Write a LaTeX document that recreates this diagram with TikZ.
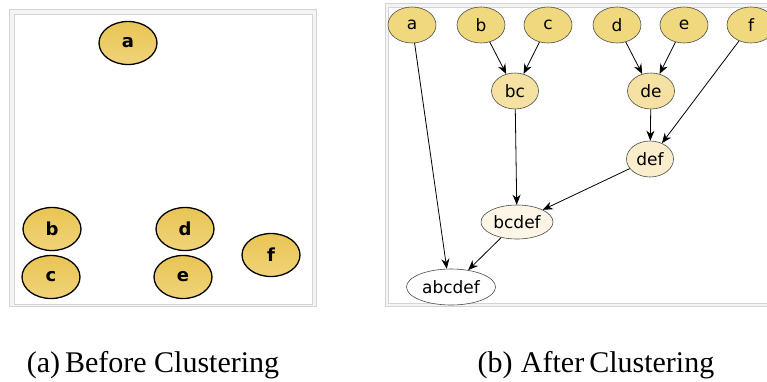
\documentclass[tikz,border=0pt]{standalone}
\usepackage{fontspec}
\setmainfont{Liberation Serif}
\newfontfamily\graphfont{DejaVu Sans}
\newfontfamily\heavyfont{DejaVu Sans Bold}
\usetikzlibrary{shapes.geometric,arrows.meta}
\definecolor{leafgold}{HTML}{E9C555}
\definecolor{leafgoldlt}{HTML}{F0D37A}
\definecolor{lvA}{HTML}{F0D87F}
\definecolor{lvB}{HTML}{F5E2A2}
\definecolor{lvC}{HTML}{FAEDCB}
\definecolor{lvD}{HTML}{FDF6E6}
\definecolor{framegray}{HTML}{D4D4D4}
\definecolor{bandgray}{HTML}{F4F4F4}
\tikzset{
  rawnode/.style={ellipse, draw=black, line width=1.3pt, top color=leafgold, bottom color=leafgoldlt,
    minimum width=58pt, minimum height=43pt, inner sep=0pt,
    font=\heavyfont\fontsize{18}{18}\selectfont},
  clnode/.style={ellipse, draw=black!70, line width=0.6pt, inner sep=0pt,
    minimum height=36pt, font=\graphfont\fontsize{17}{17}\selectfont},
  edge/.style={-{Stealth[length=10pt,width=8pt]}, line width=0.8pt, black},
  caption/.style={font=\fontsize{30}{30}\selectfont, anchor=base}
}
\begin{document}
\begin{tikzpicture}[x=1pt,y=-1pt]
\useasboundingbox (0,0) rectangle (767,381);
\clip (0,0) rectangle (767,381);

% panel (a): raw objects
\draw[framegray, fill=bandgray] (9.5,9.5) rectangle (316,306);
\draw[framegray, fill=white] (14,14) rectangle (312,304);
\node[rawnode] (ra) at (128,43) {a};
\node[rawnode] (rb) at (52,229) {b};
\node[rawnode] (rc) at (51,277) {c};
\node[rawnode] (rd) at (185,229) {d};
\node[rawnode] (re) at (183,277) {e};
\node[rawnode] (rf) at (271,255) {f};

% panel (b): cluster hierarchy
\draw[framegray, fill=bandgray] (385,3.5) rectangle (790,306);
\draw[framegray, fill=white] (388.5,7) rectangle (786,303);
\node[clnode, fill=lvA, minimum width=48pt] (a) at (412,25) {a};
\node[clnode, fill=lvA, minimum width=48pt] (b) at (481,25) {b};
\node[clnode, fill=lvA, minimum width=48pt] (c) at (548,25) {c};
\node[clnode, fill=lvA, minimum width=48pt] (d) at (617,25) {d};
\node[clnode, fill=lvA, minimum width=48pt] (e) at (684,25) {e};
\node[clnode, fill=lvA, minimum width=48pt] (f) at (751,25) {f};
\node[clnode, fill=lvB, minimum width=47pt] (bc) at (515,91) {bc};
\node[clnode, fill=lvB, minimum width=47pt] (de) at (651,91) {de};
\node[clnode, fill=lvC, minimum width=47pt] (def) at (650,159) {def};
\node[clnode, fill=lvD, minimum width=72pt, minimum height=34pt] (bcdef) at (517,222) {bcdef};
\node[clnode, fill=white, minimum width=89pt, minimum height=36pt] (abcdef) at (451,287) {abcdef};

\draw[edge] (a) -- (abcdef.103);
\draw[edge] (b) -- (bc);
\draw[edge] (c) -- (bc);
\draw[edge] (d) -- (de);
\draw[edge] (e) -- (de);
\draw[edge] (f) -- (def);
\draw[edge] (de) -- (def);
\draw[edge] (bc) -- (bcdef);
\draw[edge] (def) -- (bcdef);
\draw[edge] (bcdef) -- (abcdef);

% captions
\node[caption] (capa) at (153,372) {(a)\,Before Clustering};
\node[caption] (capb) at (596,372) {(b)\;After\,Clustering};
\end{tikzpicture}
\end{document}
